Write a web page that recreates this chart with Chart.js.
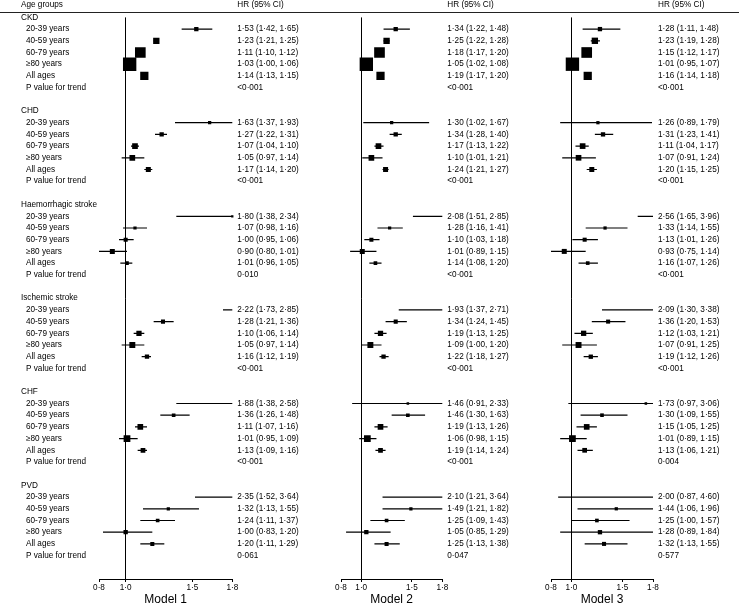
<!DOCTYPE html>
<html>
<head>
<meta charset="utf-8">
<title>HR by age group</title>
<script src="https://cdn.jsdelivr.net/npm/chart.js@4.4.0/dist/chart.umd.min.js"></script>
<style>
  html, body { margin: 0; padding: 0; background: #fff; }
  #wrap { position: relative; width: 739px; height: 606px; }
  #wrap canvas { position: absolute; left: 0; top: 0; }
</style>
</head>
<body>
<div id="wrap">
  <canvas id="m1" width="739" height="606"></canvas>
  <canvas id="m2" width="739" height="606"></canvas>
  <canvas id="m3" width="739" height="606"></canvas>
</div>
<script>
const outcomes = ['CKD', 'CHD', 'Haemorrhagic stroke', 'Ischemic stroke', 'CHF', 'PVD'];
const ageGroups = ['20-39 years', '40-59 years', '60-79 years', '≥80 years', 'All ages'];
const modelNames = ['Model 1', 'Model 2', 'Model 3'];
const xTicks = [0.8, 1.0, 1.5, 1.8];

// 5 values per outcome, outcomes in the order above
const hr1 = [1.53, 1.23, 1.11, 1.03, 1.14,  1.63, 1.27, 1.07, 1.05, 1.17,  1.80, 1.07, 1.00, 0.90, 1.01,
             2.22, 1.28, 1.10, 1.05, 1.16,  1.88, 1.36, 1.11, 1.01, 1.13,  2.35, 1.32, 1.24, 1.00, 1.20];
const lo1 = [1.42, 1.21, 1.10, 1.00, 1.13,  1.37, 1.22, 1.04, 0.97, 1.14,  1.38, 0.98, 0.95, 0.80, 0.96,
             1.73, 1.21, 1.06, 0.97, 1.12,  1.38, 1.26, 1.07, 0.95, 1.09,  1.52, 1.13, 1.11, 0.83, 1.11];
const hi1 = [1.65, 1.25, 1.12, 1.06, 1.15,  1.93, 1.31, 1.10, 1.14, 1.20,  2.34, 1.16, 1.06, 1.01, 1.05,
             2.85, 1.36, 1.14, 1.14, 1.19,  2.58, 1.48, 1.16, 1.09, 1.16,  3.64, 1.55, 1.37, 1.20, 1.29];
const p1 = ['<0·001', '<0·001', '0·010', '<0·001', '<0·001', '0·061'];

const hr2 = [1.34, 1.25, 1.18, 1.05, 1.19,  1.30, 1.34, 1.17, 1.10, 1.24,  2.08, 1.28, 1.10, 1.01, 1.14,
             1.93, 1.34, 1.19, 1.09, 1.22,  1.46, 1.46, 1.19, 1.06, 1.19,  2.10, 1.49, 1.25, 1.05, 1.25];
const lo2 = [1.22, 1.22, 1.17, 1.02, 1.17,  1.02, 1.28, 1.13, 1.01, 1.21,  1.51, 1.16, 1.03, 0.89, 1.08,
             1.37, 1.24, 1.13, 1.00, 1.18,  0.91, 1.30, 1.13, 0.98, 1.14,  1.21, 1.21, 1.09, 0.85, 1.13];
const hi2 = [1.48, 1.28, 1.20, 1.08, 1.20,  1.67, 1.40, 1.22, 1.21, 1.27,  2.85, 1.41, 1.18, 1.15, 1.20,
             2.71, 1.45, 1.25, 1.20, 1.27,  2.33, 1.63, 1.26, 1.15, 1.24,  3.64, 1.82, 1.43, 1.29, 1.38];
const p2 = ['<0·001', '<0·001', '<0·001', '<0·001', '<0·001', '0·047'];

const hr3 = [1.28, 1.23, 1.15, 1.01, 1.16,  1.26, 1.31, 1.11, 1.07, 1.20,  2.56, 1.33, 1.13, 0.93, 1.16,
             2.09, 1.36, 1.12, 1.07, 1.19,  1.73, 1.30, 1.15, 1.01, 1.13,  2.00, 1.44, 1.25, 1.28, 1.32];
const lo3 = [1.11, 1.19, 1.12, 0.95, 1.14,  0.89, 1.23, 1.04, 0.91, 1.15,  1.65, 1.14, 1.01, 0.75, 1.07,
             1.30, 1.20, 1.03, 0.91, 1.12,  0.97, 1.09, 1.05, 0.89, 1.06,  0.87, 1.06, 1.00, 0.89, 1.13];
const hi3 = [1.48, 1.28, 1.17, 1.07, 1.18,  1.79, 1.41, 1.17, 1.24, 1.25,  3.96, 1.55, 1.26, 1.14, 1.26,
             3.38, 1.53, 1.21, 1.25, 1.26,  3.06, 1.55, 1.25, 1.15, 1.21,  4.60, 1.96, 1.57, 1.84, 1.55];
const p3 = ['<0·001', '<0·001', '<0·001', '<0·001', '0·004', '0·577'];

// relative box weight (% of largest), same for every model
const weight = [32, 47, 79, 99, 61,  24, 32, 42, 42, 37,  17, 24, 30, 37, 27,
                19, 30, 39, 44, 32,  19, 27, 42, 50, 35,  15, 24, 27, 32, 30];

const FONT = '"Liberation Sans", Arial, Helvetica, sans-serif';
const MAX_BOX = 13.5;     // px side of a 100% box
const HEADER_Y = 5;
const RULE_Y = 12.5;

Chart.defaults.font.family = FONT;
Chart.defaults.color = '#000';

const models = [
  { hr: hr1, lo: lo1, hi: hi1, p: p1, left: 99, right: 232.3 },
  { hr: hr2, lo: lo2, hi: hi2, p: p2, left: 341, right: 442.3 },
  { hr: hr3, lo: lo3, hi: hi3, p: p3, left: 551, right: 653 },
];

// row index on the y scale: header, 5 age rows, p row, blank
const rowOf = k => Math.floor(k / 5) * 8 + 1 + (k % 5);
const fmt = (v, d = 2) => v.toFixed(d).replace('.', '·');

function textPlugin(m, withLabels) {
  return {
    id: 'forestText' + m,
    afterDraw(chart) {
      const { ctx, chartArea, scales: { y } } = chart;
      const md = models[m];
      ctx.save();
      ctx.font = '8.2px ' + FONT;
      ctx.fillStyle = '#000';
      ctx.textBaseline = 'middle';
      ctx.textAlign = 'left';

      const tx = chartArea.right + 5;
      ctx.fillText('HR (95% CI)', tx, HEADER_Y);
      md.hr.forEach((v, k) => {
        ctx.fillText(`${fmt(v)} (${fmt(md.lo[k])}, ${fmt(md.hi[k])})`, tx, y.getPixelForValue(rowOf(k)));
      });
      md.p.forEach((s, g) => ctx.fillText(s, tx, y.getPixelForValue(g * 8 + 6)));

      if (withLabels) {
        ctx.fillText('Age groups', 21, HEADER_Y);
        outcomes.forEach((o, g) => {
          ctx.fillText(o, 21, y.getPixelForValue(g * 8));
          ageGroups.forEach((a, j) => ctx.fillText(a, 26, y.getPixelForValue(g * 8 + 1 + j)));
          ctx.fillText('P value for trend', 26, y.getPixelForValue(g * 8 + 6));
        });
        // rule under the header
        ctx.strokeStyle = '#222';
        ctx.lineWidth = 1.2;
        ctx.beginPath();
        ctx.moveTo(0, RULE_Y);
        ctx.lineTo(chart.width, RULE_Y);
        ctx.stroke();
      }
      ctx.restore();
    }
  };
}

function makeChart(id, m) {
  const md = models[m];
  const ciData = [];
  md.hr.forEach((v, k) => {
    ciData.push({ x: md.lo[k], y: rowOf(k) }, { x: md.hi[k], y: rowOf(k) }, { x: null, y: null });
  });
  const boxData = md.hr.map((v, k) => ({ x: v, y: rowOf(k) }));

  return new Chart(document.getElementById(id), {
    type: 'scatter',
    data: {
      datasets: [
        {
          data: boxData,
          pointStyle: 'rect',
          pointRadius: c => (MAX_BOX * weight[c.dataIndex] / 100) / Math.SQRT2,
          pointHoverRadius: c => (MAX_BOX * weight[c.dataIndex] / 100) / Math.SQRT2,
          backgroundColor: '#000',
          borderWidth: 0,
          clip: { left: 5, right: 5, top: false, bottom: false },
          order: 0
        },
        {
          data: ciData,
          showLine: true,
          borderColor: '#000',
          borderWidth: 1.2,
          pointRadius: 0,
          pointHoverRadius: 0,
          spanGaps: false,
          clip: 0,
          order: 1
        }
      ]
    },
    options: {
      responsive: false,
      animation: false,
      events: [],
      layout: { padding: { left: md.left, right: 739 - md.right, top: 17.4, bottom: 0 } },
      plugins: { legend: { display: false }, tooltip: { enabled: false } },
      scales: {
        x: {
          type: 'linear',
          min: 0.8,
          max: 1.8,
          afterBuildTicks: axis => { axis.ticks = xTicks.map(v => ({ value: v })); },
          afterFit: axis => { axis.height = 27; },
          border: { display: true, color: '#000', width: 1 },
          grid: {
            drawOnChartArea: true,
            color: c => (c.tick && c.tick.value === 1 ? '#000' : 'rgba(0,0,0,0)'),
            tickColor: '#000',
            tickLength: 3,
            lineWidth: 1
          },
          ticks: {
            font: { size: 8.2 },
            color: '#000',
            padding: 1,
            maxRotation: 0,
            callback: v => fmt(v, 1)
          },
          title: {
            display: true,
            text: modelNames[m],
            font: { size: 12, lineHeight: 1 },
            color: '#000',
            padding: 0
          }
        },
        y: { type: 'linear', min: 0, max: 48, reverse: true, display: false }
      }
    },
    plugins: [textPlugin(m, m === 0)]
  });
}

makeChart('m1', 0);
makeChart('m2', 1);
makeChart('m3', 2);
</script>
</body>
</html>
